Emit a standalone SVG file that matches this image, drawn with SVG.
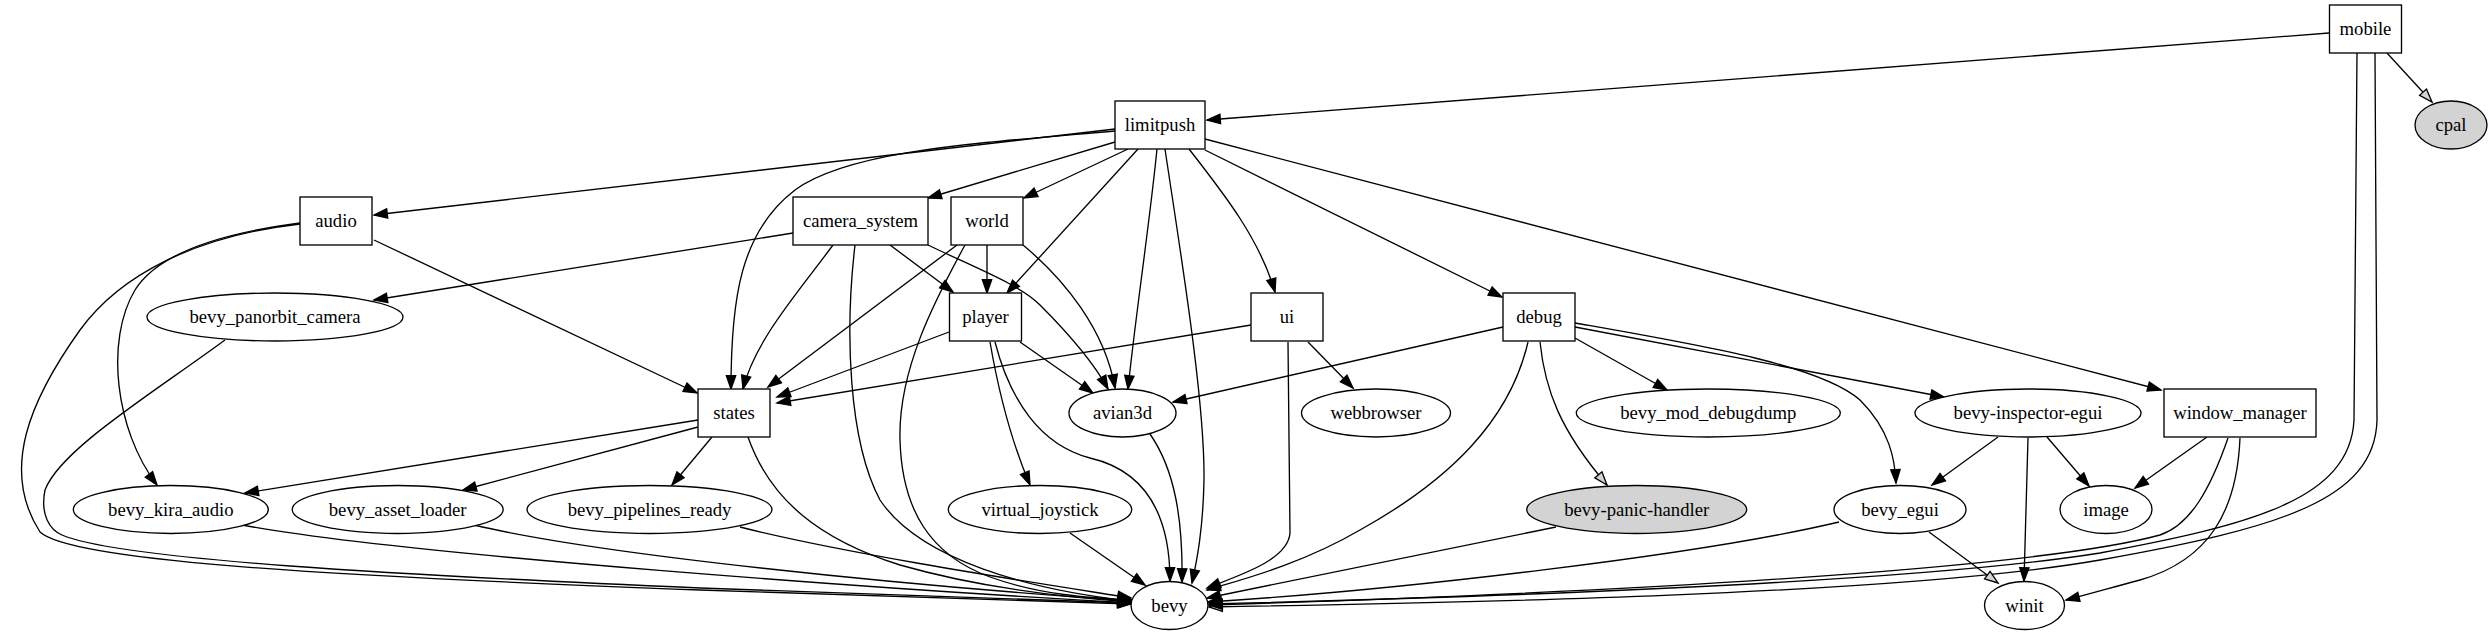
<svg xmlns="http://www.w3.org/2000/svg" width="2492" height="635" viewBox="0 0 2492 635">
<style>
.bg{fill:#fff}
.n{fill:#fff;stroke:#000;stroke-width:1.33}
.g{fill:#d3d3d3;stroke:#000;stroke-width:1.33}
.t{font-family:"Liberation Serif","Times New Roman",serif;font-size:18.67px;text-anchor:middle;fill:#000}
.e path{fill:none;stroke:#000;stroke-width:1.33;marker-end:url(#a)}
.e path.o{marker-end:url(#o)}
</style>
<defs>
<marker id="a" markerUnits="userSpaceOnUse" markerWidth="16" markerHeight="12" refX="13.3" refY="4.67" orient="auto" overflow="visible"><path d="M0,0 L13.3,4.67 L0,9.33 Z" fill="#000" stroke="#000" stroke-width="1.33"/></marker>
<marker id="o" markerUnits="userSpaceOnUse" markerWidth="16" markerHeight="12" refX="13.3" refY="4.67" orient="auto" overflow="visible"><path d="M0,0 L13.3,4.67 L0,9.33 Z" fill="#d3d3d3" stroke="#000" stroke-width="1.33"/></marker>
</defs>
<rect class="bg" x="0" y="0" width="2492" height="635"/>
<g id="edges" class="e">
<path d="M2329,33 L1207,120"/>
<path class="o" d="M2387,53 L2432,102"/>
<path d="M2357,53 L2354,420 C2350,500 2250,525 2100,553 C1900,585 1450,598 1209,604"/>
<path class="o" d="M2375,53 L2377,420 C2375,500 2280,528 2100,560 C1900,595 1450,603 1209,607"/>
<path d="M1115,129 L374,215"/>
<path d="M1115,131 C980,143 850,150 795,190 C740,232 731,300 731,389"/>
<path d="M1115,142 L928,198"/>
<path d="M1128,149 L1024,198"/>
<path d="M1138,149 L1007,293"/>
<path d="M1157,149 C1150,220 1135,320 1128,389"/>
<path d="M1165,149 C1180,250 1205,400 1204,480 C1203,530 1197,560 1192,583"/>
<path d="M1189,149 C1225,195 1260,240 1275,292"/>
<path d="M1205,150 L1502,297"/>
<path d="M1205,139 L2161,390"/>
<path d="M374,240 L697,393"/>
<path d="M300,223 C230,232 160,250 135,290 C105,340 115,430 157,485"/>
<path d="M300,224 C195,236 120,275 80,330 C30,400 0,470 40,532 C70,560 300,575 700,590 C900,597 1050,601 1131,604"/>
<path d="M225,340 C150,395 60,450 45,490 C40,515 50,530 62,535 C120,560 400,575 700,588 C900,596 1050,600 1131,603"/>
<path d="M793,233 L374,300"/>
<path d="M833,245 C800,290 755,340 743,389"/>
<path d="M890,245 L953,292"/>
<path d="M928,245 C980,270 1020,285 1040,305 C1070,335 1095,365 1108,389"/>
<path d="M855,245 C845,330 848,440 880,500 C920,560 1030,590 1131,601"/>
<path d="M987,245 L987,293"/>
<path d="M957,245 L768,387"/>
<path d="M1023,245 C1065,280 1105,330 1115,388"/>
<path d="M965,245 C935,300 898,370 900,440 C902,510 930,555 990,577 C1040,595 1090,598 1132,600"/>
<path d="M949,332 L777,397"/>
<path d="M1020,342 L1093,393"/>
<path d="M990,342 C1000,400 1015,450 1030,485"/>
<path d="M995,342 C1010,400 1040,445 1090,458 C1150,472 1170,520 1170,581"/>
<path d="M1251,325 L777,403"/>
<path d="M1308,342 L1353,388"/>
<path d="M1288,342 L1290,533 C1288,560 1240,575 1207,588"/>
<path d="M1503,327 L1173,402"/>
<path d="M1575,338 L1667,390"/>
<path d="M1575,327 L1944,397"/>
<path d="M1575,323 C1700,345 1820,365 1860,400 C1890,430 1895,460 1896,483"/>
<path class="o" d="M1540,342 C1545,390 1560,430 1607,485"/>
<path d="M1528,342 C1510,420 1450,480 1360,530 C1300,565 1240,580 1207,590"/>
<path d="M698,420 L245,493"/>
<path d="M698,427 L463,490"/>
<path d="M712,437 L672,485"/>
<path d="M748,437 C770,500 820,540 900,565 C980,588 1060,597 1131,602"/>
<path d="M1150,434 C1175,470 1183,520 1182,582"/>
<path d="M1070,533 L1145,585"/>
<path d="M242,525 C400,555 900,590 1131,603"/>
<path d="M474,525 C600,555 900,585 1131,601"/>
<path d="M740,527 C850,555 1050,585 1131,598"/>
<path d="M1556,527 L1207,598"/>
<path d="M1839,522 C1700,555 1400,590 1208,602"/>
<path class="o" d="M1929,532 L1998,583"/>
<path d="M1998,437 L1932,485"/>
<path d="M2028,438 L2024,581"/>
<path d="M2047,437 L2089,486"/>
<path d="M2207,437 L2135,488"/>
<path d="M2228,438 C2210,490 2190,525 2160,535 C2050,565 1700,590 1209,605"/>
<path d="M2240,438 C2237,510 2210,560 2140,580 C2110,588 2090,594 2066,600"/>
</g>
<g id="mobile"><rect class="n" x="2329.5" y="5" width="72" height="48"/><text class="t" x="2365.5" y="35">mobile</text></g>
<g id="limitpush"><rect class="n" x="1115" y="101" width="90" height="48"/><text class="t" x="1160" y="131">limitpush</text></g>
<g id="cpal"><ellipse class="g" cx="2451" cy="125" rx="36" ry="24"/><text class="t" x="2451" y="131">cpal</text></g>
<g id="audio"><rect class="n" x="300" y="197" width="72" height="48"/><text class="t" x="336" y="227">audio</text></g>
<g id="camera_system"><rect class="n" x="793" y="197" width="135" height="48"/><text class="t" x="860.5" y="227">camera_system</text></g>
<g id="world"><rect class="n" x="951" y="197" width="72" height="48"/><text class="t" x="987" y="227">world</text></g>
<g id="bevy_panorbit_camera"><ellipse class="n" cx="275" cy="317" rx="128" ry="24"/><text class="t" x="275" y="323">bevy_panorbit_camera</text></g>
<g id="player"><rect class="n" x="949.5" y="293" width="72" height="48"/><text class="t" x="985.5" y="323">player</text></g>
<g id="ui"><rect class="n" x="1251" y="293" width="72" height="48"/><text class="t" x="1287" y="323">ui</text></g>
<g id="debug"><rect class="n" x="1503" y="293" width="72" height="48"/><text class="t" x="1539" y="323">debug</text></g>
<g id="states"><rect class="n" x="698" y="389" width="72" height="48"/><text class="t" x="734" y="419">states</text></g>
<g id="avian3d"><ellipse class="n" cx="1122.5" cy="413" rx="53.5" ry="24"/><text class="t" x="1122.5" y="419">avian3d</text></g>
<g id="webbrowser"><ellipse class="n" cx="1376" cy="413" rx="74.5" ry="24"/><text class="t" x="1376" y="419">webbrowser</text></g>
<g id="bevy_mod_debugdump"><ellipse class="n" cx="1708.3" cy="413" rx="132" ry="24"/><text class="t" x="1708.3" y="419">bevy_mod_debugdump</text></g>
<g id="bevy-inspector-egui"><ellipse class="n" cx="2028" cy="413" rx="113" ry="24"/><text class="t" x="2028" y="419">bevy-inspector-egui</text></g>
<g id="window_manager"><rect class="n" x="2164" y="389" width="152" height="48"/><text class="t" x="2240" y="419">window_manager</text></g>
<g id="bevy_kira_audio"><ellipse class="n" cx="170.8" cy="509.5" rx="97.5" ry="24"/><text class="t" x="170.8" y="515.5">bevy_kira_audio</text></g>
<g id="bevy_asset_loader"><ellipse class="n" cx="397.7" cy="509.5" rx="105.5" ry="24"/><text class="t" x="397.7" y="515.5">bevy_asset_loader</text></g>
<g id="bevy_pipelines_ready"><ellipse class="n" cx="649.5" cy="509.5" rx="122.5" ry="24"/><text class="t" x="649.5" y="515.5">bevy_pipelines_ready</text></g>
<g id="virtual_joystick"><ellipse class="n" cx="1040" cy="509.5" rx="91.7" ry="24"/><text class="t" x="1040" y="515.5">virtual_joystick</text></g>
<g id="bevy-panic-handler"><ellipse class="g" cx="1636.7" cy="509.5" rx="110" ry="24"/><text class="t" x="1636.7" y="515.5">bevy-panic-handler</text></g>
<g id="bevy_egui"><ellipse class="n" cx="1900" cy="509.5" rx="66" ry="24"/><text class="t" x="1900" y="515.5">bevy_egui</text></g>
<g id="image"><ellipse class="n" cx="2106" cy="509.5" rx="46" ry="24"/><text class="t" x="2106" y="515.5">image</text></g>
<g id="bevy"><ellipse class="n" cx="1169.5" cy="605.5" rx="38.5" ry="24"/><text class="t" x="1169.5" y="611.5">bevy</text></g>
<g id="winit"><ellipse class="n" cx="2024.5" cy="605.5" rx="40" ry="24"/><text class="t" x="2024.5" y="611.5">winit</text></g>
</svg>
